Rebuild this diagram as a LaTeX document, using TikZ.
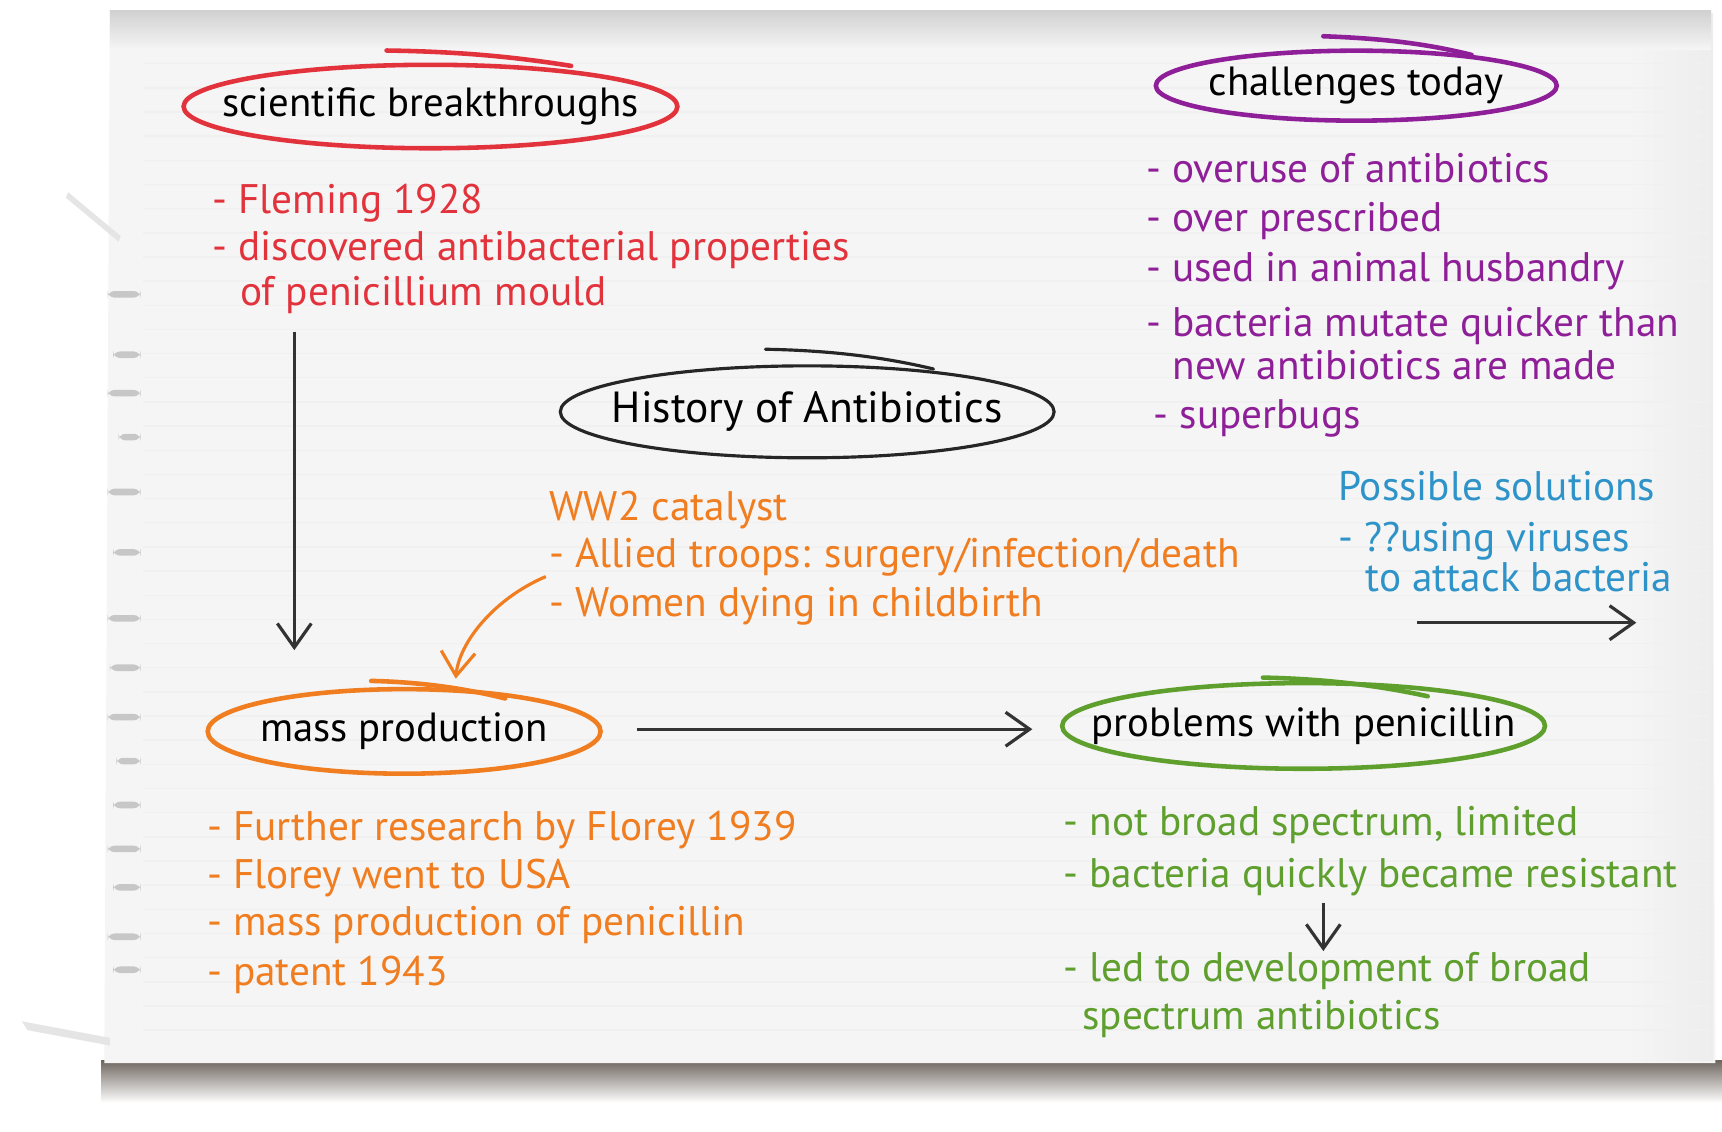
\documentclass[tikz,border=0pt]{standalone}
\usepackage{fontspec}
\setmainfont{PT Sans}
\usetikzlibrary{shapes.geometric,arrows.meta}
\definecolor{cred}{HTML}{E2333D}
\definecolor{cpurple}{HTML}{8E1F98}
\definecolor{corange}{HTML}{F07D1F}
\definecolor{cgreen}{HTML}{5E9F2E}
\definecolor{cblue}{HTML}{2E93C8}
\definecolor{cdark}{HTML}{333333}
\definecolor{paper}{HTML}{F5F5F5}
\definecolor{shadow}{HTML}{574D45}
\newcommand\nfont{\fontsize{11.75}{13}\selectfont}
\newcommand\tfont{\fontsize{11.6}{13}\selectfont}
\newcommand\hfont{\fontsize{12.4}{14}\selectfont}
\newcommand\zbox[1]{\makebox[0pt]{#1}}
\begin{document}
\begin{tikzpicture}[x=0.010982cm,y=-0.010982cm,
  bubble/.style={ellipse, draw=#1, line width=1.3pt, inner sep=0pt, font=\tfont, text=black},
  tail/.style={draw=#1, line width=1.3pt, line cap=round},
  txt/.style={anchor=base west, inner sep=0pt, font=\nfont},
  arr/.style={-{Straight Barb[length=2.4mm,width=3.4mm]}, line width=0.9pt, draw=cdark}]
\useasboundingbox (0,0) rectangle (1568,1030);
\fill[white] (0,0) rectangle (1568,1030);
% bottom shadow
\shade[top color=shadow!85, bottom color=white] (92,966) rectangle (1568,1004);
% paper
\fill[paper] (100,10) -- (1558,12) -- (1562,968) -- (95,968) -- cycle;
\shade[left color=paper, right color=black!7] (1480,12) rectangle (1560,966);
\shade[top color=black!18, bottom color=paper] (100,10) rectangle (1558,45);
% ruled lines
\foreach \yy in {58,80,...,950} { \draw[black!6, line width=0.4pt] (130,\yy) -- (1555,\yy); }
% torn left edge marks
\foreach \yy/\ww in {265/30,320/25,355/30,395/20,445/30,500/25,560/30,605/28,650/30,690/22,730/25,770/30,805/25,850/30,880/25} {
  \fill[black!22, rounded corners=2pt] (128-\ww,\yy) rectangle (128,\yy+6);
}
\fill[black!10] (20,930) -- (100,945) -- (100,952) -- (25,938) -- cycle;
\fill[black!10] (62,175) -- (110,215) -- (108,220) -- (60,180) -- cycle;

% title bubbles
\node[bubble=cred, minimum width=4.94cm, minimum height=0.835cm] (sb) at (392,97) {\zbox{scientific breakthroughs}};
\draw[tail=cred] (352,46) .. controls (420,47) and (470,52) .. (520,60);
\node[bubble=cpurple, minimum width=4.01cm, minimum height=0.70cm] (ct) at (1235,78) {\zbox{challenges today}};
\draw[tail=cpurple] (1205,33) .. controls (1260,35) and (1300,40) .. (1340,50);
\node[bubble=black!85, line width=0.9pt, minimum width=4.94cm, minimum height=0.92cm, font=\hfont] (hist) at (735,375) {\zbox{History of Antibiotics}};
\draw[tail=black!85, line width=0.9pt] (697,318) .. controls (750,319) and (800,324) .. (850,336);
\node[bubble=corange, minimum width=3.93cm, minimum height=0.846cm] (mp) at (368,666) {\zbox{mass production}};
\draw[tail=corange] (338,620) .. controls (380,621) and (420,626) .. (460,636);
\node[bubble=cgreen, minimum width=4.83cm, minimum height=0.857cm] (pp) at (1187,661) {\zbox{problems with penicillin}};
\draw[tail=cgreen] (1150,617) .. controls (1200,618) and (1250,623) .. (1300,634);

% red block
\node[txt, text=cred] (r1) at (193,194) {- Fleming 1928};
\node[txt, text=cred] (r2) at (193,237) {- discovered antibacterial properties};
\node[txt, text=cred] (r3) at (218,278) {of penicillium mould};
% purple block
\node[txt, text=cpurple] (p1) at (1043,166) {- overuse of antibiotics};
\node[txt, text=cpurple] (p2) at (1043,211) {- over prescribed};
\node[txt, text=cpurple] (p3) at (1043,256) {- used in animal husbandry};
\node[txt, text=cpurple] (p4) at (1043,306) {- bacteria mutate quicker than};
\node[txt, text=cpurple] (p5) at (1067,346) {new antibiotics are made};
\node[txt, text=cpurple] (p6) at (1050,390) {- superbugs};
% blue block
\node[txt, text=cblue] (b1) at (1218,456) {Possible solutions};
\node[txt, text=cblue] (b2) at (1218,502) {- ??using viruses};
\node[txt, text=cblue] (b3) at (1243,539) {to attack bacteria};
% orange WW2 block
\node[txt, text=corange] (w1) at (500,474) {WW2 catalyst};
\node[txt, text=corange] (w2) at (500,517) {- Allied troops: surgery/infection/death};
\node[txt, text=corange] (w3) at (500,561) {- Women dying in childbirth};
% orange bottom block
\node[txt, text=corange] (o1) at (188,765) {- Further research by Florey 1939};
\node[txt, text=corange] (o2) at (188,809) {- Florey went to USA};
\node[txt, text=corange] (o3) at (188,852) {- mass production of penicillin};
\node[txt, text=corange] (o4) at (188,897) {- patent 1943};
% green block
\node[txt, text=cgreen] (g1) at (968,761) {- not broad spectrum, limited};
\node[txt, text=cgreen] (g2) at (968,808) {- bacteria quickly became resistant};
\node[txt, text=cgreen] (g3) at (968,894) {- led to development of broad};
\node[txt, text=cgreen] (g4) at (985,937) {spectrum antibiotics};

% connectors
\coordinate (a1s) at (268,302);
\coordinate (a1e) at (268,592);
\draw[arr] (a1s) -- (a1e);
\coordinate (a2s) at (580,664);
\coordinate (a2e) at (940,664);
\draw[arr] (a2s) -- (a2e);
\coordinate (a3s) at (497,525);
\coordinate (a3e) at (415,618);
\draw[arr, draw=corange] (a3s) .. controls (450,545) and (418,585) .. (a3e);
\coordinate (a4s) at (1290,567);
\coordinate (a4e) at (1490,567);
\draw[arr] (a4s) -- (a4e);
\coordinate (a5s) at (1205,822);
\coordinate (a5e) at (1205,866);
\draw[arr] (a5s) -- (a5e);
\end{tikzpicture}
\end{document}
